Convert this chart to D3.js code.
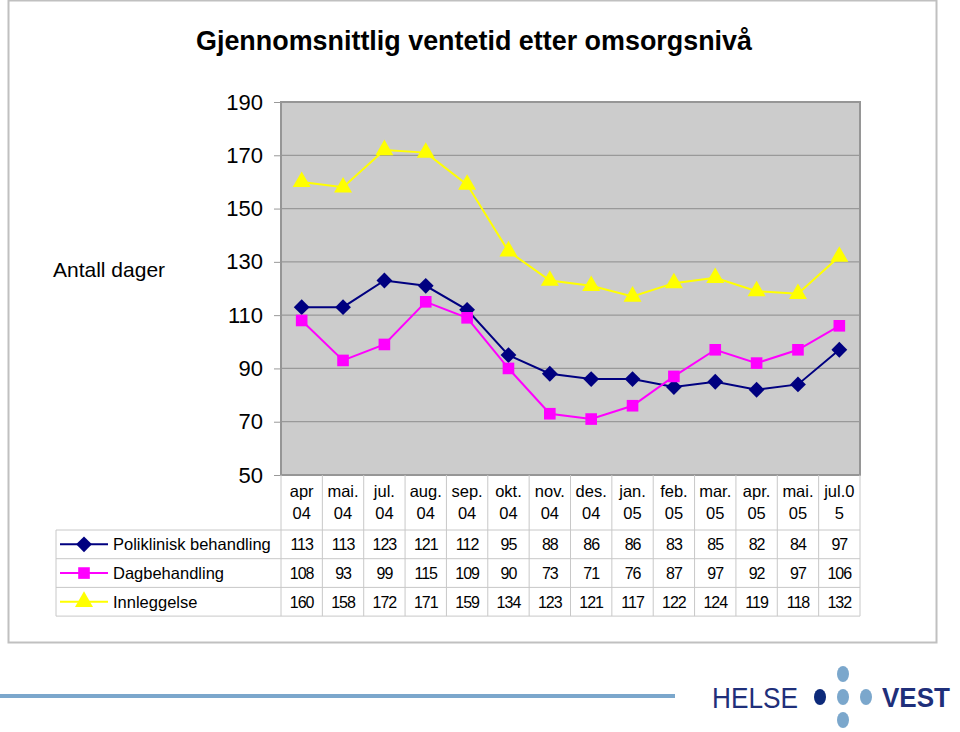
<!DOCTYPE html>
<html><head><meta charset="utf-8">
<script src="https://cdn.jsdelivr.net/npm/d3@7/dist/d3.min.js"></script>
<style>
html,body{margin:0;padding:0;background:#fff;}
svg{display:block;font-family:"Liberation Sans",Arial,sans-serif;}
</style></head>
<body><svg id="c" width="960" height="732"></svg>
<script>
const categories = ["apr\n04","mai.\n04","jul.\n04","aug.\n04","sep.\n04","okt.\n04","nov.\n04","des.\n04","jan.\n05","feb.\n05","mar.\n05","apr.\n05","mai.\n05","jul.0\n5"];
const poliklinisk = [113,113,123,121,112,95,88,86,86,83,85,82,84,97];
const dagbehandling = [108,93,99,115,109,90,73,71,76,87,97,92,97,106];
const innleggelse = [160,158,172,171,159,134,123,121,117,122,124,119,118,132];
const yTicks = [50,70,90,110,130,150,170,190];
const seriesNames = ["Poliklinisk behandling","Dagbehandling","Innleggelse"];

const series = [
  {name: seriesNames[0], values: poliklinisk, color: "#000080", marker: "diamond"},
  {name: seriesNames[1], values: dagbehandling, color: "#FF00FF", marker: "square"},
  {name: seriesNames[2], values: innleggelse, color: "#FFFF00", marker: "triangle"}
];

const svg = d3.select("#c");
const L = 281, R = 860, T = 102, B = 475;
const x = d3.scaleBand().domain(categories).range([L, R]);
const y = d3.scaleLinear().domain([50, 190]).range([B, T]);

// outer frame
svg.append("rect").attr("x", 8.5).attr("y", 0.5).attr("width", 928).attr("height", 642)
  .attr("fill", "#fff").attr("stroke", "#c0c0c0").attr("stroke-width", 2);

// title
svg.append("text").attr("x", 474).attr("y", 50).attr("text-anchor", "middle")
  .attr("font-size", 27).attr("font-weight", "bold").attr("textLength", 556)
  .attr("lengthAdjust", "spacingAndGlyphs").text("Gjennomsnittlig ventetid etter omsorgsnivå");

// plot area
svg.append("rect").attr("x", L).attr("y", T).attr("width", R - L).attr("height", B - T)
  .attr("fill", "#CCCCCC");
svg.append("g").selectAll("line").data(yTicks.slice(1, -1)).join("line")
  .attr("x1", L).attr("x2", R).attr("y1", d => y(d)).attr("y2", d => y(d))
  .attr("stroke", "#999").attr("stroke-width", 1.2);
svg.append("rect").attr("x", L).attr("y", T).attr("width", R - L).attr("height", B - T)
  .attr("fill", "none").attr("stroke", "#969696").attr("stroke-width", 2);

// y axis
const yAxis = svg.append("g").attr("transform", `translate(${L},0)`)
  .call(d3.axisLeft(y).tickValues(yTicks).tickSize(7).tickPadding(11).tickFormat(d3.format("d")));
yAxis.select(".domain").remove();
yAxis.selectAll(".tick line").attr("stroke", "#999");
yAxis.selectAll(".tick text").attr("font-size", 22).attr("fill", "#000")
  .attr("font-family", "Liberation Sans, Arial, sans-serif");

svg.append("text").attr("x", 53).attr("y", 277).attr("font-size", 21).text("Antall dager");

// lines and markers
const line = d3.line().x((d, i) => x(categories[i]) + x.bandwidth() / 2).y(d => y(d));
const markerPath = {
  diamond: d3.symbol().type(d3.symbolSquare).size(125)(),
  square: d3.symbol().type(d3.symbolSquare).size(135)(),
  triangle: d3.symbol().type(d3.symbolTriangle).size(140)()
};
const markerRot = {diamond: 45, square: 0, triangle: 0};
series.forEach(s => {
  svg.append("path").datum(s.values).attr("d", line).attr("fill", "none")
    .attr("stroke", s.color).attr("stroke-width", 2);
});
series.forEach(s => {
  svg.append("g").selectAll("path").data(s.values).join("path")
    .attr("transform", (d, i) => `translate(${x(categories[i]) + x.bandwidth() / 2},${y(d)}) rotate(${markerRot[s.marker]})`)
    .attr("d", markerPath[s.marker])
    .attr("fill", s.color);
});

// data table
const headerBottom = 530, rowH = 28.7, tableLeft = 56;
const gridC = "#c8c8c8";
const tbl = svg.append("g");
tbl.selectAll("line.v").data(categories.concat([null])).join("line").attr("class", "v")
  .attr("x1", (d, i) => i < categories.length ? x(d) : R)
  .attr("x2", (d, i) => i < categories.length ? x(d) : R)
  .attr("y1", B).attr("y2", headerBottom + 3 * rowH)
  .attr("stroke", gridC).attr("stroke-width", 1);
d3.range(4).forEach(r => {
  tbl.append("line").attr("x1", tableLeft).attr("x2", R)
    .attr("y1", headerBottom + r * rowH).attr("y2", headerBottom + r * rowH)
    .attr("stroke", gridC).attr("stroke-width", 1);
});
tbl.append("line").attr("x1", tableLeft).attr("x2", tableLeft)
  .attr("y1", headerBottom).attr("y2", headerBottom + 3 * rowH).attr("stroke", gridC);

categories.forEach(c => {
  const parts = c.split("\n");
  const cx = x(c) + x.bandwidth() / 2;
  tbl.append("text").attr("x", cx).attr("y", 497).attr("text-anchor", "middle")
    .attr("font-size", 16.5).text(parts[0]);
  tbl.append("text").attr("x", cx).attr("y", 519).attr("text-anchor", "middle")
    .attr("font-size", 16.5).text(parts[1]);
});

series.forEach((s, r) => {
  const cy = headerBottom + r * rowH + rowH / 2;
  s.values.forEach((v, i) => {
    tbl.append("text").attr("x", x(categories[i]) + x.bandwidth() / 2).attr("y", cy + 6)
      .attr("text-anchor", "middle").attr("font-size", 16).attr("letter-spacing", -1).text(v);
  });
  tbl.append("line").attr("x1", 60).attr("x2", 108).attr("y1", cy).attr("y2", cy)
    .attr("stroke", s.color).attr("stroke-width", 2);
  tbl.append("path").attr("transform", `translate(84,${cy}) rotate(${markerRot[s.marker]})`)
    .attr("d", markerPath[s.marker])
    .attr("fill", s.color);
  tbl.append("text").attr("x", 113).attr("y", cy + 6).attr("font-size", 16.5).text(s.name);
});

// footer logo
svg.append("line").attr("x1", 0).attr("x2", 675).attr("y1", 696).attr("y2", 696)
  .attr("stroke", "#7BA7CC").attr("stroke-width", 4);
svg.append("text").attr("x", 712).attr("y", 708).attr("font-size", 30).attr("font-weight", 300)
  .attr("fill", "#1F2F7A").attr("textLength", 86).attr("lengthAdjust", "spacingAndGlyphs")
  .text("HELSE");
const dots = [[820,697,"#0D2A7A"],[843,697,"#7BA7CC"],[866,697,"#7BA7CC"],[843,674,"#7BA7CC"],[843,720,"#7BA7CC"]];
svg.append("g").selectAll("ellipse").data(dots).join("ellipse")
  .attr("cx", d => d[0]).attr("cy", d => d[1]).attr("rx", 6).attr("ry", 8).attr("fill", d => d[2]);
svg.append("text").attr("x", 882).attr("y", 707).attr("font-size", 27).attr("font-weight", "bold")
  .attr("fill", "#1F2F7A").attr("textLength", 68).attr("lengthAdjust", "spacingAndGlyphs")
  .text("VEST");
</script></body></html>
